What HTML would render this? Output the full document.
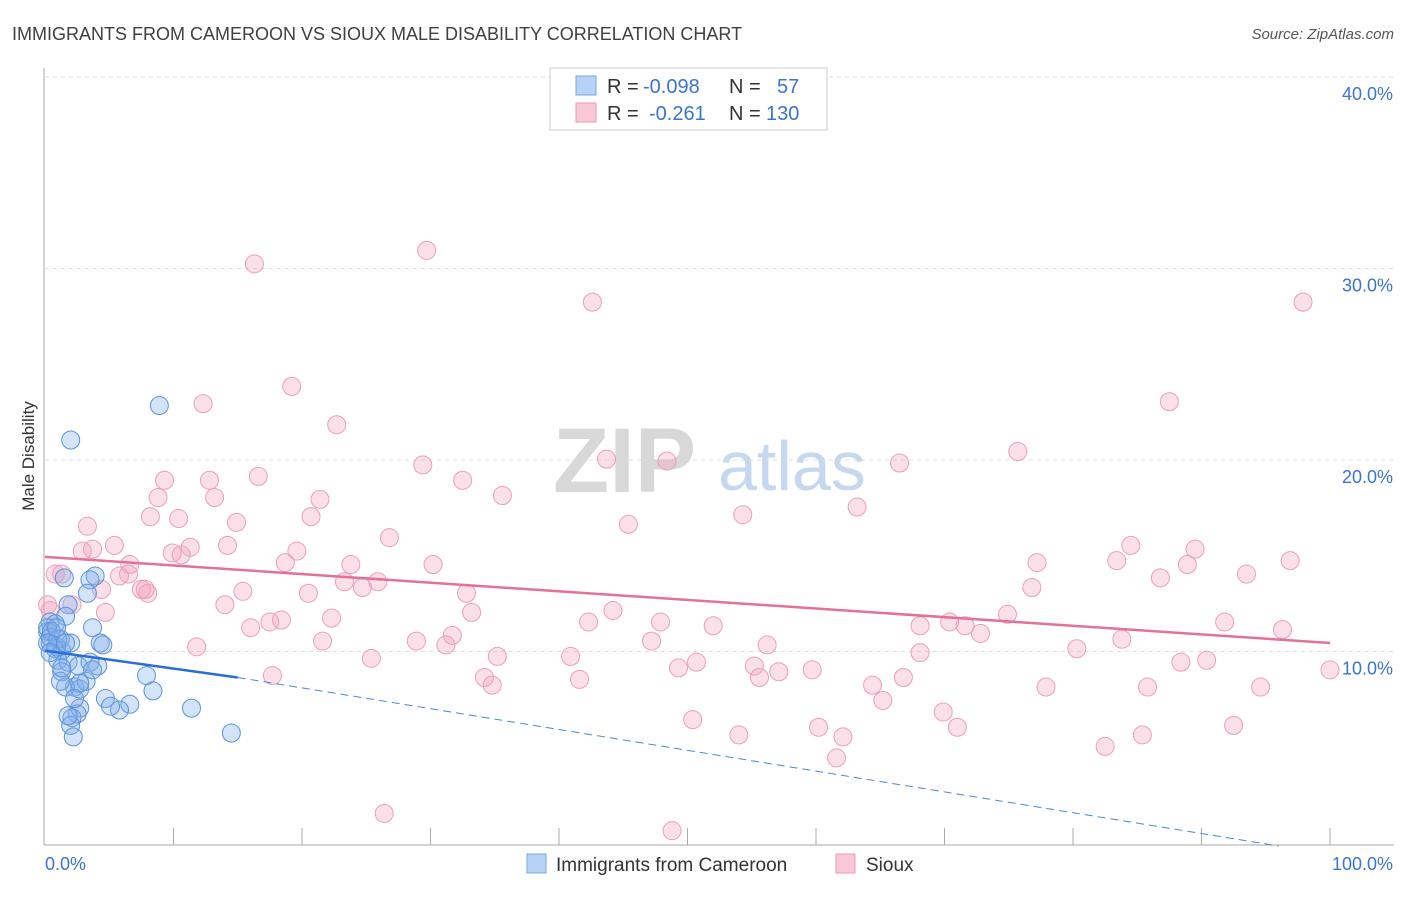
<!DOCTYPE html>
<html><head><meta charset="utf-8"><style>
body{margin:0;background:#fff;font-family:"Liberation Sans",sans-serif;}
svg text{font-family:"Liberation Sans",sans-serif;}
</style></head><body>
<svg id="chart" width="1406" height="892" viewBox="0 0 1406 892" xmlns="http://www.w3.org/2000/svg">
<text x="12" y="40" font-size="18" fill="#404040">IMMIGRANTS FROM CAMEROON VS SIOUX MALE DISABILITY CORRELATION CHART</text>
<text x="1394" y="39" font-size="15" fill="#555" font-style="italic" text-anchor="end">Source: ZipAtlas.com</text>
<g>
<text x="553" y="492" font-size="92" fill="#d8d8d8" font-family="Liberation Serif,serif" font-weight="bold">ZIP</text>
<text x="718" y="490" font-size="70" fill="#c6d8f0">atlas</text>
</g>
<g id="grid"></g>
<g id="axes"></g>
<g id="pink"></g>
<g id="blue"></g>
<g id="trends"></g>
<text transform="translate(34,456) rotate(-90)" font-size="17" fill="#333" text-anchor="middle">Male Disability</text>
<g>
<rect x="550" y="68" width="277" height="62" fill="#fff" stroke="#ccc"/>
<rect x="576" y="76" width="20" height="19" fill="#b8d2f5" stroke="#7aa6e0"/>
<rect x="576" y="103" width="20" height="19" fill="#f9c8d6" stroke="#eb9ab4"/>
<text x="607" y="93" font-size="20" fill="#333">R =</text>
<text x="643" y="93" font-size="20" fill="#3b74d3">-0.098</text>
<text x="729" y="93" font-size="20" fill="#333">N =</text>
<text x="777" y="93" font-size="20" fill="#3b74d3">57</text>
<text x="607" y="120" font-size="20" fill="#333">R =</text>
<text x="649" y="120" font-size="20" fill="#3b74d3">-0.261</text>
<text x="729" y="120" font-size="20" fill="#333">N =</text>
<text x="766" y="120" font-size="20" fill="#3b74d3">130</text>
</g>
<g>
<rect x="527" y="854" width="19" height="19" fill="#b8d2f5" stroke="#7aa6e0"/>
<text x="556" y="871" font-size="19" fill="#333">Immigrants from Cameroon</text>
<rect x="836" y="854" width="19" height="19" fill="#f9c8d6" stroke="#eb9ab4"/>
<text x="866" y="871" font-size="19" fill="#333">Sioux</text>
</g>
</svg>
<script>
const yTicks=[10,20,30,40];
const yTickLabels=["10.0%","20.0%","30.0%","40.0%"];
const xEndLabels=["0.0%","100.0%"];
const blueX=[konv(160),konv(70),konv(64),konv(95),konv(90),konv(87),konv(68),konv(66),konv(50),konv(55),konv(48),konv(60),konv(50),konv(55),konv(62),konv(70),konv(93),konv(100),konv(103),konv(58),konv(68),konv(78),konv(90),konv(98),konv(62),konv(75),konv(80),konv(86),konv(65),konv(60),konv(147),konv(153),konv(106),konv(130),konv(120),konv(80),konv(77),konv(72),konv(70),konv(73),konv(192),konv(232),konv(47),konv(50),konv(52),konv(56),konv(62),konv(80),konv(68),konv(58),konv(48),konv(50),konv(92),konv(110),konv(75),konv(66),konv(57)];
function konv(p){return Math.round((p-45)/12.85*10)/10;}
</script>
<script>
// data arrays (percent units)
const cameroonX=[konvX(160),konvX(70)];
function konvX(p){return p;}
</script>
<script>
const blueXs=[8.9,2.0,1.5,3.9,3.5,3.3,1.8,1.6,0.4,0.8,0.2,1.2,0.4,0.8,1.3,2.0,3.7,4.3,4.5,1.0,1.8,2.6,3.5,4.1,1.3,2.3,2.7,3.2,1.6,1.2,7.9,8.4,4.7,6.6,5.8,2.7,2.5,2.1,2.0,2.2,11.4,14.5,0.2,0.4,0.5,0.9,1.3,2.7,1.8,1.0,0.2,0.4,3.7,5.1,2.3,1.6,0.9];
const blueYs=[23.0,21.2,14.0,14.1,13.9,13.2,12.6,12.0,11.7,11.6,11.2,10.8,10.6,10.3,10.2,10.6,11.4,10.6,10.5,9.7,9.6,9.4,9.6,9.4,9.1,8.3,8.2,8.6,8.3,8.6,8.9,8.1,7.7,7.4,7.1,7.2,6.9,6.7,6.3,5.7,7.2,5.9,11.4,10.9,11.2,10.4,9.3,8.5,6.8,10.8,10.6,10.1,9.2,7.3,7.7,10.6,11.4];
const pinkPx=[[255,263],[427,251],[593,303],[1303,302],[292,387],[203,403],[1170,401],[337,424],[1018,452],[606,460],[667,462],[423,465],[899,463],[462,480],[165,480],[210,480],[258,477],[502,495],[158,498],[214,497],[320,499],[857,507],[151,517],[178,518],[236,522],[311,517],[629,524],[743,515],[88,526],[115,545],[390,538],[82,552],[93,550],[172,553],[190,548],[228,546],[297,551],[181,555],[1131,545],[1195,549],[1290,560],[1117,561],[1037,562],[1188,564],[285,563],[351,565],[433,565],[130,565],[55,575],[62,575],[120,576],[128,575],[1161,577],[1246,575],[345,582],[378,582],[363,587],[1032,588],[142,590],[148,593],[101,590],[243,592],[309,594],[466,593],[72,605],[225,604],[105,612],[613,610],[472,613],[332,618],[1008,614],[588,622],[250,627],[270,621],[281,620],[660,622],[713,625],[920,625],[950,622],[965,625],[1225,622],[1283,630],[980,633],[452,636],[322,641],[416,641],[446,645],[652,641],[767,644],[1122,640],[1077,648],[920,653],[497,657],[371,659],[570,657],[696,662],[679,667],[754,666],[779,671],[812,669],[1206,660],[1181,663],[1330,669],[760,677],[484,678],[272,676],[580,680],[492,685],[873,685],[903,678],[1046,687],[1148,688],[1260,687],[883,701],[943,712],[693,719],[819,727],[957,728],[739,735],[843,737],[1233,726],[1142,734],[1105,747],[836,757],[384,813],[672,830],[48,605],[197,647],[145,590],[50,610]];
</script>
<script>
// Sioux values (percent)
const pinkXs=pinkPx.map(p=>Math.round((p[0]-45)/12.85*10)/10);
const pinkYs=pinkPx.map(p=>Math.round((846-p[1])/19.15*10)/10);
const trendBlue=[[0,10.2],[15,8.8],[96,0]];
const trendPink=[[0,15.1],[100,10.6]];
const NS="http://www.w3.org/2000/svg";
const X0=45,X1=1330,Y0=846,PPY=19.15;
const sx=v=>X0+(X1-X0)*v/100;
const sy=v=>Y0-v*PPY;
function mk(tag,attrs,parent){const e=document.createElementNS(NS,tag);for(const k in attrs)e.setAttribute(k,attrs[k]);parent.appendChild(e);return e;}
const grid=document.getElementById('grid'),axes=document.getElementById('axes');
yTicks.forEach((t,i)=>{
 const l=mk('line',{x1:X0,x2:1394,y1:sy(t)-3,y2:sy(t)-3,stroke:'#ddd','stroke-dasharray':'4,4'},grid);
 
 
 const tx=mk('text',{x:1393,y:sy(t)+20,'font-size':18,fill:'#3b74d3','text-anchor':'end'},axes);
 tx.textContent=yTickLabels[i];
 
 
});
mk('line',{x1:44,x2:44,y1:68,y2:845,stroke:'#aaa'},axes);
mk('line',{x1:44,x2:1394,y1:845,y2:845,stroke:'#aaa'},axes);
for(let i=1;i<=10;i++){const l=mk('line',{x1:sx(i*10),x2:sx(i*10),y1:828,y2:845,stroke:'#aaa'},axes);
 
 }
const xl0=mk('text',{x:45,y:870,'font-size':18,fill:'#3b74d3'},axes);xl0.textContent=xEndLabels[0];


const xl1=mk('text',{x:1393,y:870,'font-size':18,fill:'#3b74d3','text-anchor':'end'},axes);xl1.textContent=xEndLabels[1];


const pg=document.getElementById('pink');
pinkXs.forEach((x,i)=>{const c=mk('circle',{cx:sx(x),cy:sy(pinkYs[i]),r:9,fill:'rgba(243,160,188,0.33)',stroke:'#ec9fb8','stroke-width':1},pg);
 
 });
const bg=document.getElementById('blue');
blueXs.forEach((x,i)=>{const c=mk('circle',{cx:sx(x),cy:sy(blueYs[i]),r:9,fill:'rgba(130,175,235,0.35)',stroke:'#5d92dc','stroke-width':1},bg);
 
 });
const tg=document.getElementById('trends');
const tp=mk('line',{x1:sx(trendPink[0][0]),y1:sy(trendPink[0][1]),x2:sx(trendPink[1][0]),y2:sy(trendPink[1][1]),stroke:'#e5709a','stroke-width':2.5},tg);


const tb=mk('line',{x1:sx(trendBlue[0][0]),y1:sy(trendBlue[0][1]),x2:sx(trendBlue[1][0]),y2:sy(trendBlue[1][1]),stroke:'#2a6fd6','stroke-width':2.5},tg);


const td=mk('line',{x1:sx(trendBlue[1][0]),y1:sy(trendBlue[1][1]),x2:sx(trendBlue[2][0]),y2:sy(trendBlue[2][1]),stroke:'#4a86de','stroke-width':1,'stroke-dasharray':'8,5'},tg);


</script>
</body></html>
